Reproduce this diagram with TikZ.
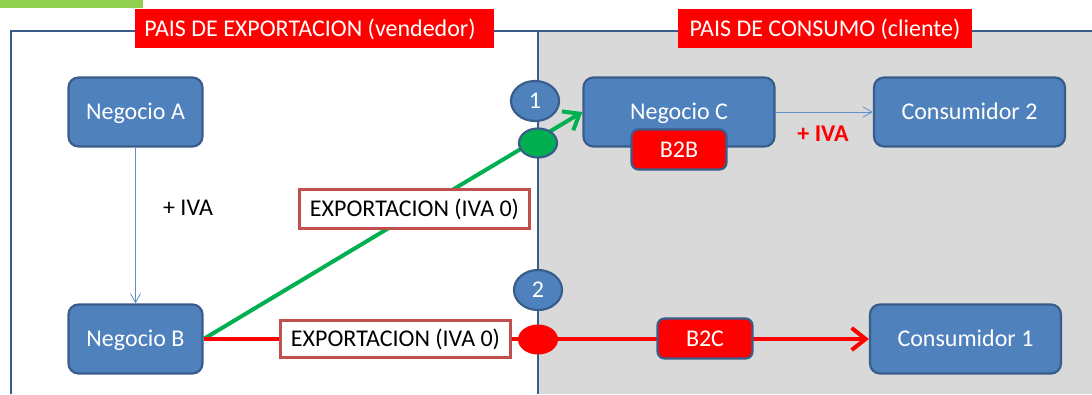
\documentclass[tikz,border=0pt]{standalone}
\usepackage{fontspec}
\setmainfont{Carlito}
\usetikzlibrary{shapes.geometric,arrows.meta}
\definecolor{fillblue}{HTML}{4F81BD}
\definecolor{edgeblue}{HTML}{385D8A}
\definecolor{thinblue}{HTML}{5F8FCB}
\definecolor{panelgray}{HTML}{D9D9D9}
\definecolor{topgreen}{HTML}{92D050}
\definecolor{arrowgreen}{HTML}{00B050}
\definecolor{labelred}{HTML}{C0504D}
\tikzset{
  x=1pt,y=-1pt,
  txt/.style={font=\fontsize{24}{28}\selectfont,text height=17pt,text depth=2pt},
  bluebox/.style={txt,rounded corners=10pt,draw=edgeblue,fill=fillblue,line width=2.2pt,text=white,minimum width=134pt,minimum height=69pt,inner sep=0pt},
  widebox/.style={bluebox,minimum width=191pt},
  tagbox/.style={txt,rounded corners=7pt,draw=edgeblue,fill=red,line width=2.2pt,text=white,minimum width=95pt,minimum height=40pt,inner sep=0pt},
  oval/.style={ellipse,draw=edgeblue,line width=2.2pt,inner sep=0pt},
  numoval/.style={oval,txt,fill=fillblue,text=white,minimum width=48pt,minimum height=40pt},
  exlabel/.style={txt,draw=labelred,fill=white,line width=2.2pt,text=black,minimum width=230pt,inner sep=0pt},
  title/.style={txt,fill=red,text=white,inner sep=0pt,minimum height=39pt},
  thin arrow/.style={draw=thinblue,line width=1pt,-{Straight Barb[length=9pt,width=10pt,line width=.8pt]}},
  thick arrow/.style={line width=4pt,-{Straight Barb[length=14pt,width=22pt,line width=4pt]}},
}
\begin{document}
\begin{tikzpicture}
\useasboundingbox (0,0) rectangle (1092,394);
\fill[topgreen] (0,0) rectangle (143,8);
\fill[panelgray] (538,31) rectangle (1092,394);
\draw[edgeblue,line width=2pt] (11,394) -- (11,31) -- (1092,31);
\draw[edgeblue,line width=2pt] (538,31) -- (538,394);

\node[title,minimum width=359pt] (t1) at (314.5,28.5) {\hspace*{-9pt}PAIS DE EXPORTACION (vendedor)};
\node[title,minimum width=294pt] (t2) at (825,28.5) {PAIS DE CONSUMO (cliente)};

\node[bluebox] (a) at (135.5,112) {Negocio A};
\node[bluebox] (b) at (135.5,339) {Negocio B};
\node[widebox] (c) at (679,112) {Negocio C};
\node[widebox] (c2) at (969.5,112) {Consumidor 2};
\node[widebox] (c1) at (965.5,339) {Consumidor 1};

\draw[thin arrow] (a) -- (b);
\draw[thin arrow] (c) -- (c2);

\draw[thick arrow,draw=arrowgreen] (b.east) -- (c.west);
\draw[thick arrow,draw=red] (b.east) -- (c1.west);

\node[tagbox] (b2b) at (679,149.5) {B2B};
\node[tagbox] (b2c) at (705,338.5) {B2C};
\node[numoval] (n1) at (535,101) {1};
\node[oval,fill=arrowgreen,minimum width=38pt,minimum height=29pt] (g) at (538,143) {};
\node[numoval] (n2) at (538,290) {2};
\node[ellipse,fill=red,minimum width=40pt,minimum height=30pt,inner sep=0pt] (r) at (538,339.5) {};
\node[exlabel,minimum height=39pt] (e1) at (414.5,209) {EXPORTACION (IVA 0)};
\node[exlabel,minimum height=37pt] (e2) at (395.5,339) {EXPORTACION (IVA 0)};
\node[txt,text=black] (iva1) at (188,207.5) {+ IVA};
\node[txt,text=red,font=\fontsize{24}{28}\selectfont\bfseries] (iva2) at (823,134) {+ IVA};
\end{tikzpicture}
\end{document}
